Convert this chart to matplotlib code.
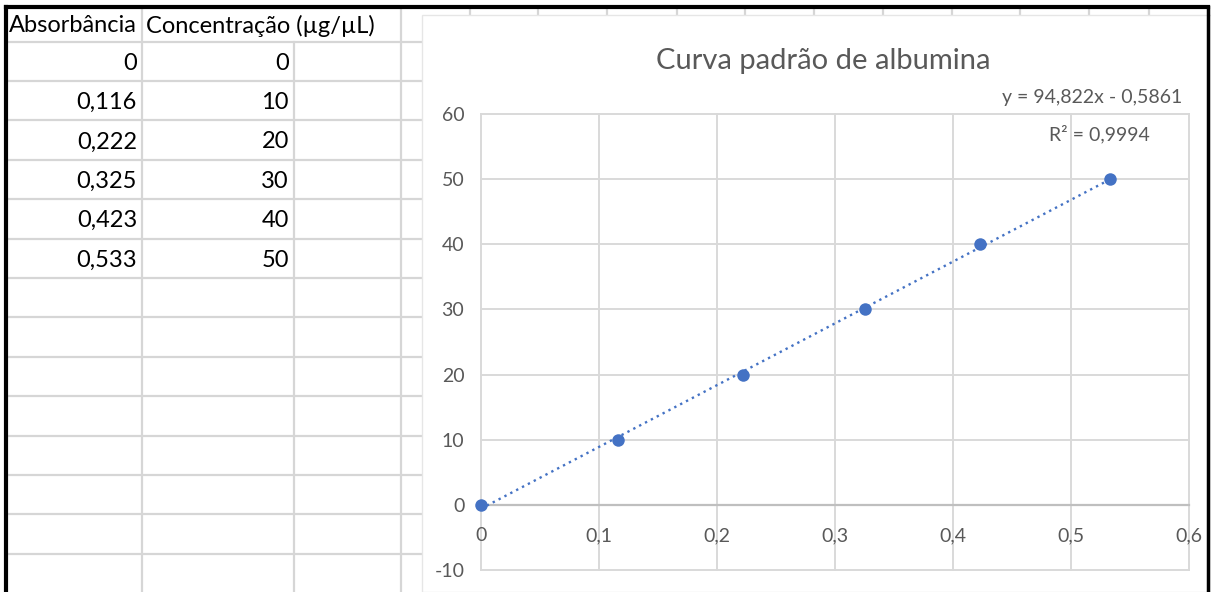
import numpy as np
import matplotlib
matplotlib.use("Agg")
import matplotlib.pyplot as plt
from matplotlib.patches import Rectangle

# ---------------- data ----------------
absorbancia = [0, 0.116, 0.222, 0.325, 0.423, 0.533]
concentracao = [0, 10, 20, 30, 40, 50]
col_headers = ["Absorbância", "Concentração (µg/µL)"]
chart_title = "Curva padrão de albumina"
equation_label = "y = 94,822x - 0,5861"
r2_label = "R² = 0,9994"
x_ticks = [0, 0.1, 0.2, 0.3, 0.4, 0.5, 0.6]
y_ticks = [-10, 0, 10, 20, 30, 40, 50, 60]

FONT = ["Lato", "DejaVu Sans"]
plt.rcParams["font.family"] = FONT

W, H = 1211, 592
fig = plt.figure(figsize=(W / 100, H / 100), dpi=100)
fig.patch.set_facecolor("white")

# ---------------- spreadsheet background (pixel coordinates) ----------------
bg = fig.add_axes([0, 0, 1, 1])
bg.set_xlim(0, W)
bg.set_ylim(H, 0)
bg.axis("off")

grid_c = "#d6d6d6"
row_top = 7
header_bottom = 41.5
row_h = 39.4
row_lines = [header_bottom + i * row_h for i in range(14)]
extra_cols = [470, 538, 607, 677, 745, 814, 883, 952, 1020, 1089, 1149]

for y in row_lines:
    bg.plot([6, 425], [y, y], color=grid_c, lw=1.6, solid_capstyle="butt")
bg.plot([142, 142], [row_top, H], color=grid_c, lw=1.6)
bg.plot([294, 294], [header_bottom, H], color=grid_c, lw=1.6)
bg.plot([401, 401], [row_top, H], color=grid_c, lw=1.6)
for x in extra_cols:
    bg.plot([x, x], [row_top, 16], color=grid_c, lw=1.6)

# table text
tfs = 17
bg.text(9, 26, col_headers[0], fontsize=tfs, color="black", va="center", ha="left")
bg.text(146, 26, col_headers[1], fontsize=tfs, color="black", va="center", ha="left")
for i, (a, c) in enumerate(zip(absorbancia, concentracao)):
    yc = header_bottom + (i + 0.5) * row_h + 2
    bg.text(137, yc, f"{a:g}".replace(".", ","), fontsize=tfs, color="black",
            va="center", ha="right")
    bg.text(289, yc, f"{c:g}", fontsize=tfs, color="black", va="center", ha="right")

# chart area (white box)
bg.add_patch(Rectangle((422, 15), W - 422, H - 15, facecolor="white",
                       edgecolor="#e6e6e6", lw=1.0, zorder=3))

# black outer border
bg.plot([6, 1208], [7, 7], color="black", lw=3, zorder=5, solid_capstyle="projecting")
bg.plot([6, 6], [7, H], color="black", lw=3, zorder=5)
bg.plot([1208, 1208], [7, H], color="black", lw=2.5, zorder=5)

# chart title and trendline labels
txt_c = "#595959"
bg.text(823, 61, chart_title, fontsize=21, color=txt_c, ha="center", va="center", zorder=6)
bg.text(1092, 98, equation_label, fontsize=14, color=txt_c, ha="center", va="center", zorder=6)
bg.text(1099, 134, r2_label, fontsize=14, color=txt_c, ha="center", va="center", zorder=6)

# ---------------- scatter chart ----------------
left, right, top, bottom = 481, 1189, 114, 570
ax = fig.add_axes([left / W, 1 - bottom / H, (right - left) / W, (bottom - top) / H])
ax.set_facecolor("none")
ax.set_xlim(0, 0.6)
ax.set_ylim(-10, 60)
ax.set_xticks(x_ticks)
ax.set_yticks(y_ticks)
ax.set_xticklabels([f"{t:g}".replace(".", ",") for t in x_ticks])
ax.set_yticklabels([f"{t:g}" for t in y_ticks])
for s in ["top", "right", "left"]:
    ax.spines[s].set_visible(False)
ax.spines["bottom"].set_position(("data", 0))
ax.spines["bottom"].set_color("#bfbfbf")
ax.spines["bottom"].set_linewidth(1.6)
ax.spines["bottom"].set_zorder(1)
ax.tick_params(axis="both", length=0, labelsize=14, labelcolor=txt_c)
ax.tick_params(axis="x", pad=16)
ax.tick_params(axis="y", pad=12)
ax.grid(True, color="#d9d9d9", lw=1.4)
ax.set_axisbelow(True)
for gl in ax.get_xgridlines() + ax.get_ygridlines():
    gl.set_clip_on(False)

# trendline (linear fit of the data)
coef = np.polyfit(absorbancia, concentracao, 1)
xs = np.array([min(absorbancia), max(absorbancia)])
ax.plot(xs, np.polyval(coef, xs), color="#4472C4", lw=1.7,
        linestyle=(0, (1, 1.8)), dash_capstyle="butt", zorder=3)
ax.plot(absorbancia, concentracao, "o", color="#4472C4", markersize=9,
        markeredgewidth=0, zorder=4, clip_on=False)

fig.savefig("out.png", dpi=100, facecolor="white")
